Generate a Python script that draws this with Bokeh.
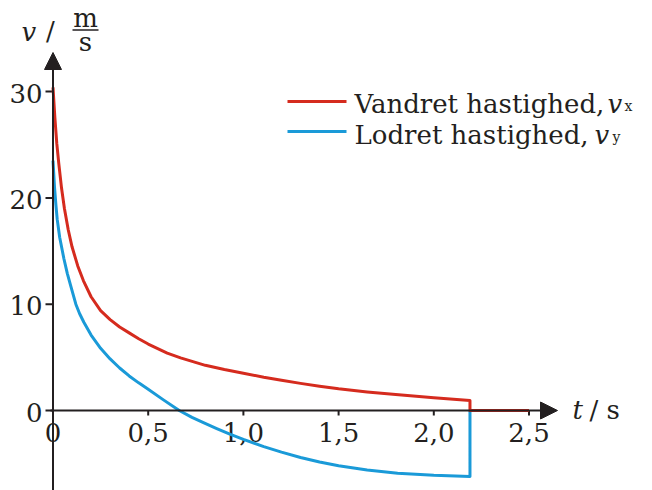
from bokeh.plotting import figure
from bokeh.models import Range1d, Arrow, NormalHead
from bokeh.core.properties import value
from bokeh.embed import file_html
from bokeh.resources import INLINE

# ---------------- data ----------------
t_vx = [0.0, 0.01, 0.02, 0.03, 0.045, 0.06, 0.08, 0.1, 0.13, 0.16, 0.2, 0.25, 0.3, 0.35,
        0.4, 0.45, 0.5, 0.6, 0.67, 0.8, 0.9, 1.0, 1.107, 1.2, 1.3, 1.4, 1.5, 1.65, 1.8,
        2.0, 2.19, 2.19, 2.5]
v_vx = [30.4, 27.5, 25.1, 23.3, 20.9, 19.0, 17.0, 15.4, 13.6, 12.2, 10.7, 9.4, 8.55, 7.85,
        7.3, 6.75, 6.25, 5.4, 4.95, 4.25, 3.85, 3.5, 3.13, 2.85, 2.55, 2.28, 2.04, 1.75, 1.5,
        1.2, 0.94, 0.0, 0.0]

t_vy = [0.0, 0.008, 0.015, 0.022, 0.035, 0.057, 0.075, 0.092, 0.12, 0.14, 0.162, 0.2, 0.25,
        0.3, 0.35, 0.4, 0.45, 0.5, 0.58, 0.663, 0.73, 0.79, 0.86, 0.932, 1.0, 1.107, 1.2,
        1.3, 1.4, 1.5, 1.65, 1.81, 2.0, 2.19, 2.19]
v_vy = [23.5, 21.0, 19.4, 18.0, 16.3, 14.3, 12.9, 11.8, 10.0, 9.1, 8.3, 7.1, 5.85,
        4.85, 4.0, 3.25, 2.6, 2.0, 1.0, 0.0, -0.65, -1.15, -1.7, -2.25, -2.72, -3.4, -3.92,
        -4.42, -4.85, -5.2, -5.6, -5.9, -6.1, -6.2, 0.0]

x_ticks = [0.5, 1.0, 1.5, 2.0, 2.5]
x_tick_labels = ["0", "0,5", "1,0", "1,5", "2,0", "2,5"]
x_label_pos = [0.0, 0.5, 1.0, 1.5, 2.0, 2.5]
y_ticks = [0, 10, 20, 30]
y_tick_labels = ["0", "10", "20", "30"]

series_names = ["Vandret hastighed, ", "Lodret hastighed, "]
series_subs = ["x", "y"]

# ---------------- layout helpers (pixel -> data) ----------------
W, H = 652, 490
X0, SX = 52.5, 190.4
Y0, SY = 410.0, 10.63
SHIFT = 8  # text rendering baseline compensation (px)


def dx(px):
    return (px - X0) / SX


def dy(py):
    return (Y0 - py) / SY


def ty(py):
    return dy(py - SHIFT)


INK = "#231f20"
RED = "#d52b1e"
BLUE = "#1a9ad8"
FONT = value("DejaVu Serif")

p = figure(width=W, height=H, x_range=Range1d(dx(0), dx(W)), y_range=Range1d(dy(H), dy(0)),
           output_backend="svg", toolbar_location=None, min_border=0,
           x_axis_type=None, y_axis_type=None, title=None)
p.outline_line_color = None
p.background_fill_color = "white"
p.border_fill_color = "white"

# axes with arrow heads
p.add_layout(Arrow(end=NormalHead(size=17, fill_color=INK, line_color=INK, line_width=1),
                   x_start=0, y_start=dy(H + 5), x_end=0, y_end=dy(52),
                   line_color=INK, line_width=2))
p.add_layout(Arrow(end=NormalHead(size=17, fill_color=INK, line_color=INK, line_width=1),
                   x_start=dx(50), y_start=0, x_end=dx(557), y_end=0,
                   line_color=INK, line_width=2))

# ticks
p.segment(x0=x_ticks, y0=[0] * len(x_ticks), x1=x_ticks, y1=[dy(415)] * len(x_ticks),
          line_color=INK, line_width=2)
p.segment(x0=[dx(45)] * len(y_ticks), y0=y_ticks, x1=[0] * len(y_ticks), y1=y_ticks,
          line_color=INK, line_width=2)

# tick labels
p.text(x=x_label_pos, y=[ty(440)] * len(x_label_pos), text=x_tick_labels,
       text_align="center", text_baseline="alphabetic", text_font=FONT,
       text_font_size="26px", text_color=INK)
p.text(x=[dx(42)] * len(y_ticks), y=[v - (9.5 - SHIFT) / SY for v in y_ticks], text=y_tick_labels,
       text_align="right", text_baseline="alphabetic", text_font=FONT,
       text_font_size="26px", text_color=INK)

# axis titles
p.text(x=[dx(21)], y=[ty(39)], text=["v"], text_font=FONT, text_font_style="italic",
       text_font_size="26px", text_baseline="alphabetic", text_color=INK)
p.text(x=[dx(50)], y=[ty(38)], text=["/"], text_font=FONT, text_align="center",
       text_font_size="26px", text_baseline="alphabetic", text_color=INK)
p.text(x=[dx(85)], y=[ty(25)], text=["m"], text_font=FONT, text_align="center",
       text_font_size="26px", text_baseline="alphabetic", text_color=INK)
p.segment(x0=[dx(72)], y0=[dy(29.5)], x1=[dx(98)], y1=[dy(29.5)], line_color=INK, line_width=1.6)
p.text(x=[dx(85)], y=[ty(49)], text=["s"], text_font=FONT, text_align="center",
       text_font_size="26px", text_baseline="alphabetic", text_color=INK)

p.text(x=[dx(572)], y=[ty(417)], text=["t"], text_font=FONT, text_font_style="italic",
       text_font_size="26px", text_baseline="alphabetic", text_color=INK)
p.text(x=[dx(589)], y=[ty(417)], text=["/ s"], text_font=FONT,
       text_font_size="26px", text_baseline="alphabetic", text_color=INK)

# curves
p.line(t_vy, v_vy, line_color=BLUE, line_width=3, line_join="round")
p.line(t_vx, v_vx, line_color=RED, line_width=3, line_join="round")

# legend (manual)
colors = [RED, BLUE]
line_py = [101, 131]
base_py = [111, 142]
v_px = [607, 594]
sub_px = [624, 612]
for i in range(2):
    p.segment(x0=[dx(287)], y0=[dy(line_py[i])], x1=[dx(346)], y1=[dy(line_py[i])],
              line_color=colors[i], line_width=3)
    p.text(x=[dx(354)], y=[ty(base_py[i])], text=[series_names[i]], text_font=FONT,
           text_font_size="26px", text_baseline="alphabetic", text_color=INK)
    p.text(x=[dx(v_px[i])], y=[ty(base_py[i])], text=["v"], text_font=FONT,
           text_font_style="italic", text_font_size="26px", text_baseline="alphabetic",
           text_color=INK)
    p.text(x=[dx(sub_px[i])], y=[ty(base_py[i] + 2)], text=[series_subs[i]], text_font=FONT,
           text_font_size="14px", text_baseline="alphabetic", text_color=INK)

open("out.html", "w").write(file_html(p, INLINE))
